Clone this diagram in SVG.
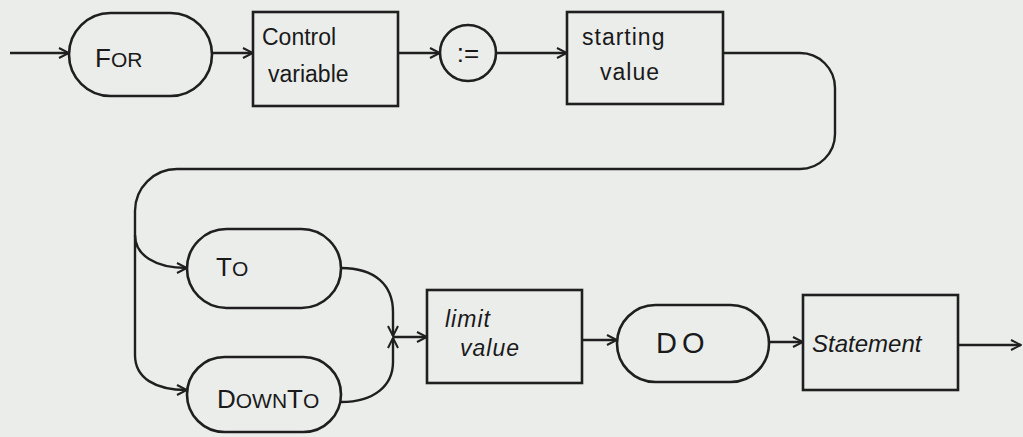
<svg xmlns="http://www.w3.org/2000/svg" width="1023" height="437" viewBox="0 0 1023 437">
  <style>
    .shape { fill: none; stroke: #1f1f1f; stroke-width: 2.6; }
    .wire { fill: none; stroke: #1f1f1f; stroke-width: 2.4; }
    .lbl { font-family: "Liberation Sans", "DejaVu Sans", sans-serif; font-size: 23px; fill: #1a1a1a; }
    .kw { font-size: 26px; }
    .sm { font-size: 21px; }
    .big { font-size: 29px; letter-spacing: 5px; }
    .it { font-style: italic; }
    .wide { font-size: 24px; }
  </style>
  <defs>
    <marker id="arr" viewBox="0 0 12 12" refX="11" refY="6" markerWidth="12" markerHeight="12" markerUnits="userSpaceOnUse" orient="auto">
      <path d="M1,1 L11,6 L1,11" fill="none" stroke="#1f1f1f" stroke-width="2"/>
    </marker>
  </defs>
  <rect width="1023" height="437" fill="#ebedeb"/>

  <!-- connectors -->
  <g id="connectors">
    <path class="wire" d="M10,53 H69" marker-end="url(#arr)"/>
    <path class="wire" d="M212,53 H253" marker-end="url(#arr)"/>
    <path class="wire" d="M398,53 H440" marker-end="url(#arr)"/>
    <path class="wire" d="M496,53 H567" marker-end="url(#arr)"/>
    <!-- loop from starting value down to the TO / DOWNTO branch -->
    <path class="wire" d="M723,53 H800 A35,35 0 0 1 835,88 V134 A35,35 0 0 1 800,169 H177 A42,42 0 0 0 135,211 V355 C135,378 155,390 187,390" marker-end="url(#arr)"/>
    <path class="wire" d="M135,235 C135,255 155,268 187,268" marker-end="url(#arr)"/>
    <!-- merge into limit value -->
    <path class="wire" d="M341,268 C375,268 393,285 393,312 V336" marker-end="url(#arr)"/>
    <path class="wire" d="M341,402 C375,402 393,385 393,362 V338" marker-end="url(#arr)"/>
    <path class="wire" d="M393,337 H427" marker-end="url(#arr)"/>
    <path class="wire" d="M582,340 H617" marker-end="url(#arr)"/>
    <path class="wire" d="M769,342 H803" marker-end="url(#arr)"/>
    <path class="wire" d="M958,345 H1021" marker-end="url(#arr)"/>
  </g>

  <g id="for">
    <rect class="shape" x="69" y="13" width="143" height="83" rx="41.5"/>
    <text class="lbl kw" x="95" y="67">F<tspan class="sm">OR</tspan></text>
  </g>
  <g id="control-variable">
    <rect class="shape" x="253" y="12" width="145" height="94"/>
    <text class="lbl" x="262" y="45">Control</text>
    <text class="lbl" x="268" y="82">variable</text>
  </g>
  <g id="assign">
    <circle class="shape" cx="468" cy="53" r="28"/>
    <text class="lbl kw" x="468" y="62" text-anchor="middle">:=</text>
  </g>
  <g id="starting-value">
    <rect class="shape" x="567" y="12" width="156" height="92"/>
    <text class="lbl" x="582" y="45" letter-spacing="1">starting</text>
    <text class="lbl" x="600" y="80" letter-spacing="1">value</text>
  </g>
  <g id="to">
    <rect class="shape" x="187" y="229" width="154" height="79" rx="39.5"/>
    <text class="lbl kw" x="216" y="276">T<tspan class="sm">O</tspan></text>
  </g>
  <g id="downto">
    <rect class="shape" x="187" y="357" width="154" height="75" rx="37.5"/>
    <text class="lbl kw" x="217" y="408">D<tspan class="sm">OWN</tspan>T<tspan class="sm">O</tspan></text>
  </g>
  <g id="limit-value">
    <rect class="shape" x="427" y="290" width="155" height="93"/>
    <text class="lbl it" x="445" y="327" letter-spacing="1">limit</text>
    <text class="lbl it" x="460" y="356" letter-spacing="1">value</text>
  </g>
  <g id="do">
    <rect class="shape" x="617" y="305" width="152" height="77" rx="38.5"/>
    <text class="lbl big" x="656" y="353">DO</text>
  </g>
  <g id="statement">
    <rect class="shape" x="803" y="295" width="155" height="95"/>
    <text class="lbl it wide" x="812" y="352">Statement</text>
  </g>
</svg>
